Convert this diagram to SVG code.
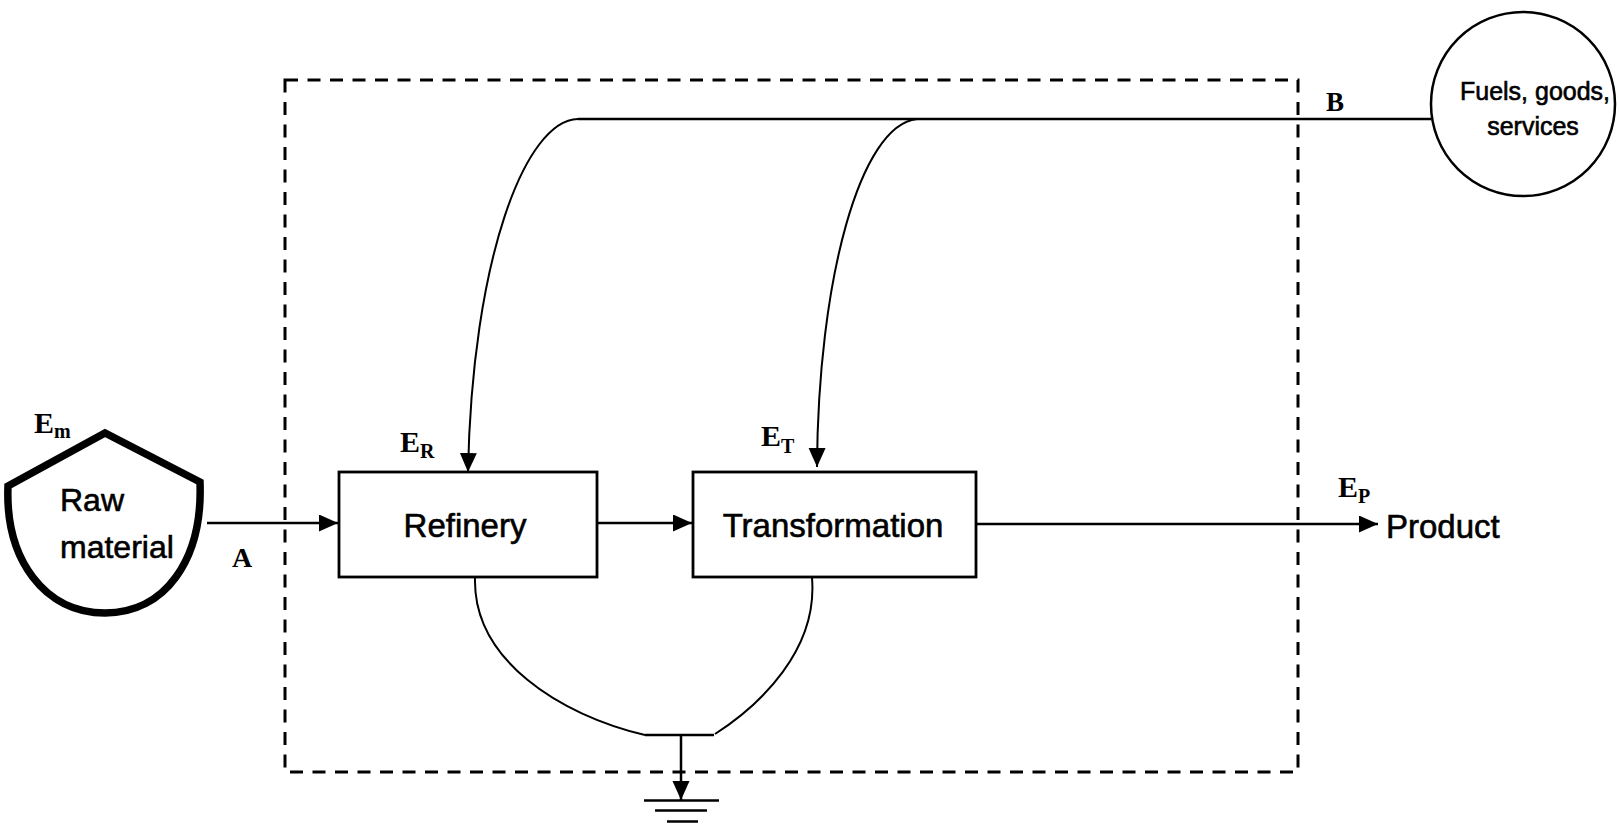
<svg xmlns="http://www.w3.org/2000/svg" width="1619" height="824" viewBox="0 0 1619 824">
<style>
.sans{font-family:"Liberation Sans",Arial,sans-serif;fill:#000;stroke:#000;stroke-width:0.6}
.lbl{font-family:"Liberation Serif","Times New Roman",serif;font-weight:bold;fill:#000}
.box{fill:#fff;stroke:#000;stroke-width:2.8}
.ln{fill:none;stroke:#000;stroke-width:2.5}
.cv{fill:none;stroke:#000;stroke-width:2}
</style>
<defs>
<marker id="ah" markerUnits="userSpaceOnUse" markerWidth="20" markerHeight="18" refX="19" refY="8.5" orient="auto">
<path d="M0,0 L19,8.5 L0,17 Z" fill="#000"/>
</marker>
</defs>
<rect width="1619" height="824" fill="#fff"/>
<g id="boundary">
<rect x="285" y="80" width="1013" height="692" fill="none" stroke="#000" stroke-width="3" stroke-dasharray="13 9.5"/>
</g>
<g id="connectors">
<line class="ln" x1="207" y1="523" x2="338" y2="523" marker-end="url(#ah)"/>
<line class="ln" x1="597" y1="523" x2="692" y2="523" marker-end="url(#ah)"/>
<line class="ln" x1="976" y1="524" x2="1378" y2="524" marker-end="url(#ah)"/>
<line class="ln" x1="578" y1="119" x2="1431" y2="119"/>
<path class="cv" d="M578,119 C525,120 472,260 468,472" marker-end="url(#ah)"/>
<path class="cv" d="M917,119 C860,125 818,280 817,467" marker-end="url(#ah)"/>
<path class="cv" d="M475,578 C473,660 560,715 645,735"/>
<path class="cv" d="M812,578 C818,650 760,705 715,734"/>
<line class="ln" x1="645" y1="735" x2="714" y2="735"/>
<line class="ln" x1="681" y1="736" x2="681" y2="800" marker-end="url(#ah)"/>
<g id="ground">
<line class="ln" x1="644" y1="800.5" x2="719" y2="800.5"/>
<line class="ln" x1="655" y1="810.5" x2="707" y2="810.5"/>
<line class="ln" x1="667" y1="821.5" x2="698" y2="821.5"/>
</g>
</g>
<g id="raw-material">
<path d="M8,486 L105,433 L200,482 C203,560 165,613 105,613 C45,613 5,560 8,486 Z" fill="#fff" stroke="#000" stroke-width="7.5" stroke-linejoin="miter"/>
<text class="sans" x="60" y="511" font-size="32">Raw</text>
<text class="sans" x="60" y="558" font-size="32">material</text>
<text class="lbl" x="34" y="433" font-size="30">E<tspan font-size="20" dy="5">m</tspan></text>
</g>
<g id="refinery">
<rect class="box" x="339" y="472" width="258" height="105"/>
<text class="sans" x="465" y="537" font-size="33" text-anchor="middle">Refinery</text>
<text class="lbl" x="400" y="452" font-size="30">E<tspan font-size="20" dy="6">R</tspan></text>
</g>
<g id="transformation">
<rect class="box" x="693" y="472" width="283" height="105"/>
<text class="sans" x="833" y="537" font-size="33" text-anchor="middle">Transformation</text>
<text class="lbl" x="761" y="446" font-size="30">E<tspan font-size="20" dy="7">T</tspan></text>
</g>
<g id="fuels">
<circle cx="1523" cy="104" r="92" fill="#fff" stroke="#000" stroke-width="2.5"/>
<text class="sans" x="1535" y="100" font-size="25" text-anchor="middle">Fuels, goods,</text>
<text class="sans" x="1533" y="135" font-size="25" text-anchor="middle">services</text>
</g>
<g id="product">
<text class="sans" x="1386" y="538" font-size="33">Product</text>
<text class="lbl" x="1338" y="497" font-size="30">E<tspan font-size="20" dy="6">P</tspan></text>
</g>
<g id="labels">
<text class="lbl" x="232" y="567" font-size="28">A</text>
<text class="lbl" x="1326" y="111" font-size="27">B</text>
</g>
</svg>
